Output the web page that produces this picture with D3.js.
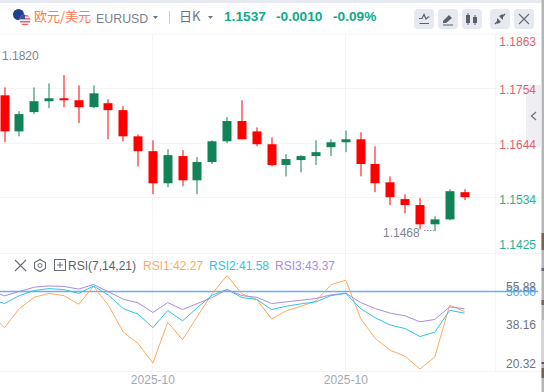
<!DOCTYPE html>
<html>
<head>
<meta charset="utf-8">
<script src="https://cdnjs.cloudflare.com/ajax/libs/d3/7.8.5/d3.min.js"></script>
<style>
  html, body { margin: 0; padding: 0; background: #fff; overflow: hidden; }
  svg { display: block; }
  text { font-family: "Liberation Sans", Arial, sans-serif; }
</style>
</head>
<body>
<svg id="chart" width="544" height="392"></svg>
<script>
// daily candles
const opens  = [1.1741,1.1668,1.1707,1.1729,1.1735,1.1731,1.1717,1.1725,1.1711,1.1658,1.1628,1.1563,1.1618,1.1569,1.1606,1.1648,1.1689,1.1668,1.1642,1.1600,1.1610,1.1618,1.1636,1.1646,1.1652,1.1602,1.1565,1.1531,1.1519,1.1480,1.1490,1.1545];
const highs  = [1.1757,1.1709,1.1757,1.1765,1.1782,1.1761,1.1761,1.1733,1.1719,1.1662,1.1650,1.1632,1.1630,1.1616,1.1650,1.1697,1.1731,1.1676,1.1656,1.1622,1.1620,1.1650,1.1652,1.1670,1.1666,1.1638,1.1577,1.1541,1.1533,1.1496,1.1551,1.1551];
const lows   = [1.1646,1.1658,1.1703,1.1715,1.1717,1.1685,1.1715,1.1652,1.1648,1.1597,1.1541,1.1555,1.1557,1.1541,1.1602,1.1644,1.1652,1.1638,1.1597,1.1577,1.1585,1.1600,1.1618,1.1626,1.1577,1.1545,1.1519,1.1502,1.1470,1.1466,1.1488,1.1529];
const closes = [1.1668,1.1703,1.1729,1.1735,1.1731,1.1717,1.1745,1.1711,1.1658,1.1628,1.1563,1.1620,1.1569,1.1606,1.1648,1.1689,1.1652,1.1642,1.1600,1.1612,1.1618,1.1626,1.1646,1.1652,1.1602,1.1563,1.1535,1.1519,1.1480,1.1490,1.1547,1.1535];

// rsi lines start one bar before the first visible candle
const rsi1 = [40.8,35.0,42.9,47.6,49.2,48.3,44.7,52.2,44.3,33.2,28.4,20.3,37.2,30.0,39.7,49.2,56.6,49.0,46.7,38.6,42.0,43.9,46.1,52.8,54.7,38.8,30.4,25.6,23.1,17.8,22.8,44.3,41.7];
const rsi2 = [47.1,45.0,48.3,50.4,51.2,50.8,49.2,52.3,48.5,42.9,40.6,35.0,42.1,37.8,43.3,48.5,50.8,47.5,46.7,42.5,43.9,44.9,45.7,48.3,49.2,42.9,39.0,36.1,34.6,31.3,33.1,42.2,41.0];
const rsi3 = [50.6,48.2,50.0,51.8,52.3,52.1,51.0,52.9,49.9,46.8,45.3,41.3,45.4,42.5,45.0,47.5,50.8,48.3,47.6,45.0,45.7,46.4,47.1,48.6,49.3,45.4,42.9,41.0,39.9,37.4,38.4,43.6,42.8];

const priceTicks = [1.1863, 1.1754, 1.1644, 1.1534, 1.1425];
const priceTickColors = ["#e2616f", "#e2616f", "#e2616f", "#21b394", "#21b394"];
const rsiTicks = [55.88, 38.16, 20.32];
const dateTicks = [10, 23]; // bar index of the two labels
const dateLabel = "2025-10";
const maxLabel = 1.1820;
const minLabel = 1.1468;

const red = "#ff0000";
const green = "#128257";
const gridColor = "#f3f4f6";

const svg = d3.select("#chart");

const x = d3.scaleLinear().domain([0, 31]).range([4.5, 464.5]);
const yPrice = d3.scaleLinear().domain([1.1425, 1.1863]).range([251.5, 35]);
const yRsi = d3.scaleLinear().domain([20.32, 50]).range([363, 291.5]);
// the tick labels on the rsi pane sit on their own spacing
const yRsiAxis = d3.scaleLinear().domain([20.32, 55.88]).range([363, 286]);

// top + right page chrome
svg.append("rect").attr("width", 544).attr("height", 3).attr("fill", "#e6e9f0");
svg.append("rect").attr("x", 541.5).attr("width", 2.5).attr("height", 392).attr("fill", "#b4b5b8");
// bits of the page behind showing through the right edge
[[233, 17, "#7a6350"], [268, 3, "#5a6a80"], [300, 5, "#7a6350"], [320, 42, "#d4d5d8"], [362, 2, "#55565c"], [368, 10, "#7a6350"]].forEach(([sy, sh, c]) => {
  svg.append("rect").attr("x", 541.5).attr("y", sy).attr("width", 2.5).attr("height", sh).attr("fill", c);
});

// grid
const grid = svg.append("g").attr("stroke", gridColor).attr("fill", "none");
[34, 88.5, 143.5, 197.5, 253.5, 371.5].forEach((y) => {
  grid.append("line").attr("x1", 0).attr("x2", 541).attr("y1", y).attr("y2", y);
});
dateTicks.forEach((i) => {
  grid.append("line")
    .attr("x1", Math.round(x(i)) - 0.5).attr("x2", Math.round(x(i)) - 0.5)
    .attr("y1", 34).attr("y2", 371);
});
grid.append("line").attr("x1", 495.5).attr("x2", 495.5).attr("y1", 34).attr("y2", 371);

// header
const flag = svg.append("g");
const defs = svg.append("defs");
defs.append("clipPath").attr("id", "us").append("circle").attr("cx", 25).attr("cy", 20).attr("r", 5.5);
flag.append("circle").attr("cx", 18.5).attr("cy", 14.5).attr("r", 5.5).attr("fill", "#1d3f94");
const us = flag.append("g").attr("clip-path", "url(#us)");
us.append("rect").attr("x", 19).attr("y", 14).attr("width", 12).attr("height", 12).attr("fill", "#f6eef0");
d3.range(4).forEach((i) => {
  us.append("rect").attr("x", 19).attr("y", 15 + i * 3).attr("width", 12).attr("height", 1.5).attr("fill", "#e4646c");
});
us.append("rect").attr("x", 19).attr("y", 14).attr("width", 6).attr("height", 5).attr("fill", "#3f4f8f");

svg.append("text").attr("x", 34).attr("y", 21).attr("font-size", 13)
  .style("font-family", "'Noto Sans CJK SC'").attr("fill", "#fb7c56").text("欧元/美元");
svg.append("text").attr("x", 96).attr("y", 22.5).attr("font-size", 12.4).attr("fill", "#7d8190").text("EURUSD");

const caret = (cx, cy) => svg.append("path")
  .attr("d", `M${cx - 2.5},${cy - 1.5}L${cx + 2.5},${cy - 1.5}L${cx},${cy + 1.5}Z`).attr("fill", "#6f7382");
caret(155.5, 17.5);
svg.append("line").attr("x1", 169.5).attr("x2", 169.5).attr("y1", 11).attr("y2", 24).attr("stroke", "#c9ccd4");
svg.append("text").attr("x", 179).attr("y", 21).attr("font-size", 13)
  .style("font-family", "'Noto Sans CJK SC'").attr("fill", "#6f7382").text("日K");
caret(210.5, 17.5);

[[224, "1.1537"], [276, "-0.0010"], [333, "-0.09%"]].forEach(([tx, t]) => {
  svg.append("text").attr("x", tx).attr("y", 21).attr("font-size", 13.7).attr("font-weight", "bold")
    .attr("fill", "#0fa98a").text(t);
});

// toolbar buttons
const btnX = [414, 438, 462, 490, 514];
btnX.forEach((bx) => {
  svg.append("rect").attr("x", bx).attr("y", 9).attr("width", 20).attr("height", 20).attr("rx", 4).attr("fill", "#e6e9f0");
});
const icon = "#5b5e6b";
svg.append("path").attr("d", "M419,18.5L422,18.5L424,14.5L426,19L428,17L429.5,17M419.5,23.5H429")
  .attr("fill", "none").attr("stroke", icon).attr("stroke-width", 1.2);
svg.append("path").attr("d", "M443,21L449,15L452,18L446,23L443,23ZM443,24.5H453V25.5H443Z").attr("fill", icon);
svg.append("path").attr("d", "M466,15h4v8h-4zM467.5,13h1v12h-1zM473,17h4v6h-4zM474.5,15h1v10h-1z").attr("fill", icon);
svg.append("path").attr("d", "M495,24L499,20M505,14L501,18").attr("stroke", icon).attr("stroke-width", 1.4);
svg.append("path").attr("d", "M497,18L501,22L497,24ZM503,20L499,16L503,14Z").attr("fill", icon);
svg.append("path").attr("d", "M519,14L529,24M529,14L519,24").attr("stroke", "#666a78").attr("stroke-width", 1.1).attr("fill", "none");

// candles
const bars = svg.append("g").selectAll("g").data(opens.map((o, i) => i)).join("g");
const barColor = (i) => (closes[i] >= opens[i] ? green : red);
bars.append("rect")
  .attr("x", (i) => Math.round(x(i)) - 0.5).attr("width", 1)
  .attr("y", (i) => yPrice(highs[i]))
  .attr("height", (i) => yPrice(lows[i]) - yPrice(highs[i]))
  .attr("fill", barColor);
bars.append("rect")
  .attr("x", (i) => Math.round(x(i)) - 4.5).attr("width", 9)
  .attr("y", (i) => yPrice(Math.max(opens[i], closes[i])))
  .attr("height", (i) => Math.abs(yPrice(opens[i]) - yPrice(closes[i])))
  .attr("fill", barColor);

// high/low labels
svg.append("text").attr("x", 2).attr("y", yPrice(maxLabel) + 4).attr("font-size", 12).attr("fill", "#7f8391")
  .text(maxLabel.toFixed(4));
svg.append("text").attr("x", 383).attr("y", yPrice(minLabel) + 7).attr("font-size", 12).attr("fill", "#7f8391")
  .text(minLabel.toFixed(4));
svg.append("line").attr("x1", 424).attr("x2", 434).attr("y1", 230.5).attr("y2", 230.5)
  .attr("stroke", "#8a8e9b").attr("stroke-dasharray", "1.5,1.5");

// collapse tab on the right, under the price labels
svg.append("path").attr("d", "M541.5,85L530,85L526,89V147H541.5Z").attr("fill", "#efeff3");
svg.append("path").attr("d", "M536,112L531.5,116L536,120").attr("fill", "none").attr("stroke", "#6f7382").attr("stroke-width", 1.3);

// price axis labels
svg.append("g").selectAll("text").data(priceTicks).join("text")
  .attr("x", 536).attr("text-anchor", "end").attr("font-size", 12)
  .attr("y", (d, i) => [46, 94, 148.5, 204, 249][i])
  .attr("fill", (d, i) => priceTickColors[i])
  .text((d) => d.toFixed(4));

// rsi pane
const lineGen = d3.line().x((d, i) => x(i - 1)).y((d) => yRsi(d));
const rsiPane = svg.append("g");
rsiPane.append("line").attr("x1", 0).attr("x2", 538).attr("y1", yRsi(50)).attr("y2", yRsi(50))
  .attr("stroke", "#6aaef2").attr("stroke-width", 1.5);
[[rsi1, "#ffa95e"], [rsi2, "#2fc6e0"], [rsi3, "#a98be8"]].forEach(([vals, color]) => {
  rsiPane.append("path").datum(vals).attr("d", lineGen)
    .attr("fill", "none").attr("stroke", color).attr("stroke-width", 1);
});

svg.append("g").selectAll("text").data(rsiTicks).join("text")
  .attr("x", 536).attr("text-anchor", "end").attr("font-size", 12)
  .attr("y", (d) => yRsiAxis(d) + 4.5)
  .attr("fill", "#6f7382")
  .text((d) => d.toFixed(2));
svg.append("text").attr("x", 536).attr("text-anchor", "end").attr("font-size", 12)
  .attr("y", yRsi(50) + 4.5).attr("fill", "#4aa3f0").text("50.00");

// rsi legend
svg.append("path").attr("d", "M15,260L26,271M26,260L15,271").attr("stroke", "#686c7a").attr("stroke-width", 1.1);
svg.append("path").attr("d", "M40,259.5L45.5,262.5V268.5L40,271.5L34.5,268.5V262.5Z").attr("fill", "none").attr("stroke", "#686c7a").attr("stroke-width", 1.1);
svg.append("circle").attr("cx", 40).attr("cy", 265.5).attr("r", 2).attr("fill", "none").attr("stroke", "#686c7a");
svg.append("rect").attr("x", 54.5).attr("y", 259.5).attr("width", 11).attr("height", 11).attr("fill", "none").attr("stroke", "#686c7a");
svg.append("path").attr("d", "M57,265H63M60,262V268").attr("stroke", "#686c7a");
svg.append("text").attr("x", 68).attr("y", 270).attr("font-size", 12).attr("fill", "#5c5f6c").text("RSI(7,14,21)");
[[143, "RSI1:42.27", "#ffa95e"], [209, "RSI2:41.58", "#2fc6e0"], [275, "RSI3:43.37", "#a98be8"]].forEach(([tx, t, c]) => {
  svg.append("text").attr("x", tx).attr("y", 270).attr("font-size", 12).attr("fill", c).text(t);
});

// date labels
svg.append("g").selectAll("text").data(dateTicks).join("text")
  .attr("x", (i) => x(i)).attr("y", 384).attr("text-anchor", "middle").attr("font-size", 12)
  .attr("fill", "#a5a8b5").text(dateLabel);
</script>
</body>
</html>
